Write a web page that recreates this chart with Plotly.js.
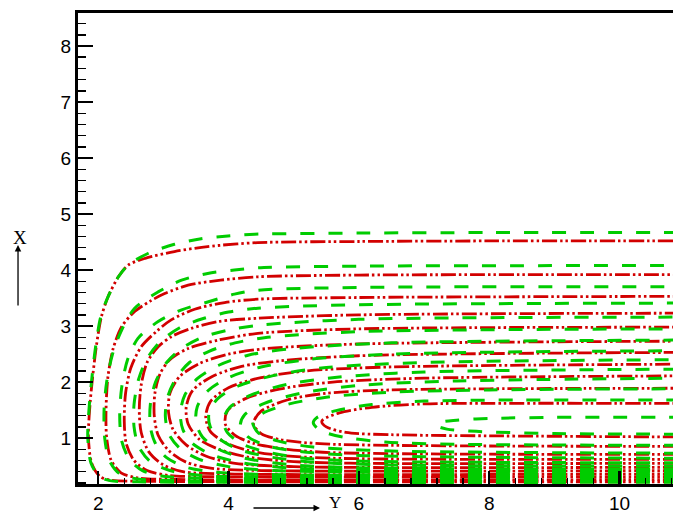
<!DOCTYPE html>
<html>
<head>
<meta charset="utf-8">
<script src="https://cdn.plot.ly/plotly-3.0.1.min.js"></script>
<style>html,body{margin:0;padding:0;background:#fff;}#chart{width:673px;height:514px;}</style>
</head>
<body>
<div id="chart"></div>
<script>
const redX = [
  [10.9,4,2.6,2.18,2.03,1.90,1.85,1.88,1.97,2.05,2.15,2.31,2.46,2.72,3.17,3.68,4.45,6,8,10.9],
  [10.9,3.2,2.6,2.35,2.2,2.13,2.12,2.15,2.23,2.36,2.56,2.79,3.02,3.38,3.88,4.45,6,10.9],
  [10.9,3.8,3.1,2.75,2.55,2.43,2.4,2.42,2.5,2.66,2.89,3.12,3.48,3.94,4.45,6,10.9],
  [10.9,4,3.3,3.0,2.78,2.66,2.63,2.66,2.75,2.92,3.12,3.43,3.84,4.45,6,10.9],
  [10.9,4.5,3.75,3.35,3.08,2.92,2.86,2.87,2.95,3.1,3.38,3.84,4.45,6,10.9],
  [10.9,5,4.1,3.65,3.35,3.15,3.08,3.1,3.25,3.55,4,4.6,6,10.9],
  [10.9,6,5,4.3,3.85,3.55,3.38,3.35,3.45,3.75,4.2,4.8,6,10.9],
  [10.9,5.6,4.8,4.3,3.95,3.72,3.65,3.72,4.0,4.5,5.2,6.5,10.9],
  [10.9,5.6,4.9,4.4,4.1,3.95,3.98,4.25,4.8,5.6,7,10.9],
  [10.9,6.5,5.4,4.8,4.5,4.38,4.5,4.9,5.5,6.5,8,10.9],
  [10.9,8,6.5,5.8,5.5,5.43,5.45,5.7,6.2,7,8,10.9]
];
const redY = [
  [0.22,0.22,0.23,0.25,0.31,0.55,1.02,1.68,2.63,3.17,3.52,3.88,4.09,4.21,4.33,4.42,4.49,4.51,4.52,4.52],
  [0.26,0.26,0.29,0.38,0.6,1.0,1.5,2.1,2.60,2.99,3.26,3.44,3.58,3.73,3.82,3.88,3.91,3.92],
  [0.31,0.31,0.33,0.42,0.6,0.9,1.3,1.8,2.25,2.63,2.90,3.11,3.30,3.42,3.48,3.51,3.53],
  [0.36,0.36,0.4,0.52,0.75,1.1,1.5,1.95,2.35,2.63,2.81,2.96,3.08,3.14,3.2,3.23],
  [0.42,0.42,0.46,0.57,0.78,1.05,1.4,1.8,2.15,2.4,2.60,2.75,2.87,2.95,2.98],
  [0.48,0.49,0.55,0.68,0.88,1.15,1.45,1.8,2.1,2.33,2.5,2.6,2.68,2.73],
  [0.55,0.55,0.58,0.66,0.8,0.98,1.25,1.55,1.85,2.1,2.28,2.38,2.47,2.53],
  [0.62,0.64,0.69,0.78,0.92,1.12,1.38,1.65,1.9,2.08,2.2,2.27,2.32],
  [0.71,0.74,0.8,0.9,1.05,1.25,1.48,1.7,1.88,2.0,2.07,2.11],
  [0.85,0.87,0.9,0.97,1.08,1.26,1.48,1.68,1.8,1.86,1.88,1.89],
  [1.02,1.04,1.06,1.1,1.2,1.29,1.33,1.45,1.55,1.61,1.62,1.62]
];
// Green dashed streamlines
const greenX = [
  [10.9,4,2.6,2.18,2.02,1.89,1.84,1.87,1.96,2.04,2.15,2.31,2.46,2.77,3.17,3.58,3.99,4.4,6,8,10.9],
  [10.9,3.2,2.55,2.32,2.17,2.1,2.09,2.13,2.22,2.36,2.56,2.92,3.28,3.68,4.09,4.45,6,10.9],
  [10.9,3.8,3.0,2.68,2.48,2.36,2.33,2.36,2.45,2.61,2.92,3.28,3.68,4.09,4.45,6,10.9],
  [10.9,4.5,3.6,3.1,2.8,2.62,2.55,2.55,2.62,2.75,2.95,3.25,3.6,4.0,4.45,6,10.9],
  [10.9,4.6,3.8,3.35,3.05,2.88,2.8,2.8,2.88,3.05,3.28,3.6,4.0,4.5,6,10.9],
  [10.9,4.7,4.0,3.55,3.25,3.08,3.03,3.07,3.2,3.4,3.7,4.1,4.6,6,10.9],
  [10.9,6,4.9,4.2,3.75,3.45,3.3,3.26,3.33,3.52,3.85,4.3,5,6.5,10.9],
  [10.9,6,4.9,4.25,3.85,3.6,3.5,3.52,3.68,4.0,4.5,5.2,6.5,10.9],
  [10.9,6.5,5.3,4.6,4.15,3.87,3.72,3.7,3.83,4.15,4.7,5.5,7,10.9],
  [10.9,6,5.1,4.55,4.2,3.98,3.92,4.02,4.35,4.9,5.7,7,10.9],
  [10.9,6,5.1,4.6,4.3,4.18,4.25,4.55,5.1,6,7.5,10.9],
  [10.9,6.5,5.3,4.75,4.45,4.37,4.52,4.9,5.5,6.5,8,10.9],
  [10.9,7.5,6.4,5.75,5.4,5.3,5.35,5.65,6.2,7,8.5,10.9],
  [10.9,9,7.8,7.35,7.2,7.25,7.5,8,9,10.9]
];
const greenY = [
  [0.21,0.21,0.22,0.24,0.31,0.55,1.02,1.68,2.63,3.17,3.52,3.88,4.09,4.30,4.46,4.56,4.61,4.64,4.66,4.67,4.67],
  [0.24,0.24,0.28,0.37,0.6,1.0,1.5,2.0,2.5,2.93,3.32,3.61,3.82,3.94,4.0,4.04,4.07,4.08],
  [0.27,0.28,0.32,0.42,0.62,0.95,1.4,1.9,2.4,2.78,3.08,3.29,3.43,3.57,3.64,3.69,3.70],
  [0.30,0.31,0.33,0.42,0.58,0.85,1.2,1.6,2.05,2.42,2.72,2.97,3.13,3.25,3.32,3.38,3.41],
  [0.33,0.35,0.39,0.48,0.65,0.9,1.2,1.6,2.0,2.35,2.6,2.8,2.93,3.02,3.12,3.16],
  [0.37,0.42,0.49,0.62,0.82,1.08,1.4,1.75,2.08,2.35,2.55,2.7,2.8,2.9,2.95],
  [0.41,0.43,0.47,0.56,0.7,0.9,1.15,1.45,1.77,2.06,2.3,2.48,2.6,2.7,2.75],
  [0.45,0.47,0.53,0.64,0.8,1.02,1.28,1.56,1.84,2.08,2.27,2.4,2.5,2.56],
  [0.50,0.52,0.57,0.67,0.8,0.98,1.2,1.45,1.7,1.93,2.12,2.26,2.35,2.40],
  [0.56,0.59,0.65,0.76,0.9,1.1,1.32,1.55,1.77,1.96,2.09,2.18,2.23],
  [0.64,0.69,0.76,0.86,1.02,1.22,1.42,1.62,1.8,1.94,2.02,2.07],
  [0.73,0.77,0.84,0.95,1.1,1.29,1.44,1.6,1.73,1.82,1.86,1.88],
  [0.87,0.89,0.93,1.02,1.14,1.27,1.36,1.49,1.6,1.66,1.68,1.68],
  [1.07,1.08,1.12,1.16,1.22,1.28,1.32,1.35,1.37,1.37]
];
const xTickVals = [2,4,6,8,10];
const yTickVals = [1,2,3,4,5,6,7,8];
const xTitle = 'Y';
const yTitle = 'X';

const RED = '#d20000', GREEN = '#00cc00';
const traces = [];
redX.forEach((xs, i) => traces.push({
  type: 'scatter', mode: 'lines', x: xs, y: redY[i], hoverinfo: 'skip', showlegend: false,
  line: {color: RED, width: 2.8, dash: '15px,3px,2.5px,3px,2.5px,3px', shape: 'spline', smoothing: 0.8}
}));
greenX.forEach((xs, i) => traces.push({
  type: 'scatter', mode: 'lines', x: xs, y: greenY[i], hoverinfo: 'skip', showlegend: false,
  line: {color: GREEN, width: 3, dash: '14px,14px', shape: 'spline', smoothing: 0.8}
}));

const tickFont = {family: 'Liberation Sans, Arial, sans-serif', size: 19, color: '#000'};
const layout = {
  width: 673, height: 514,
  margin: {l: 78, r: 0, t: 13, b: 30, pad: 0},
  paper_bgcolor: '#fff', plot_bgcolor: '#fff',
  showlegend: false,
  xaxis: {
    range: [1.69, 10.82], tickmode: 'array', tickvals: xTickVals, ticktext: xTickVals.map(String),
    ticks: 'inside', ticklen: 13, tickwidth: 2.5, tickcolor: '#000',
    showline: true, linewidth: 3, linecolor: '#000', mirror: true,
    showgrid: false, zeroline: false, tickfont: tickFont,
    minor: {dtick: 0.4, tick0: 0, ticks: 'inside', ticklen: 6, tickwidth: 1.5, tickcolor: '#000', showgrid: false}
  },
  yaxis: {
    range: [0.18, 8.59], tickmode: 'array', tickvals: yTickVals, ticktext: yTickVals.map(String),
    ticks: 'inside', ticklen: 15, tickwidth: 2.5, tickcolor: '#000',
    showline: true, linewidth: 3, linecolor: '#000', mirror: false,
    showgrid: false, zeroline: false, tickfont: tickFont,
    minor: {dtick: 0.2, tick0: 0, ticks: 'inside', ticklen: 8, tickwidth: 1.5, tickcolor: '#000', showgrid: false}
  },
  annotations: [
    {xref: 'paper', yref: 'paper', x: -0.1008, y: 0.5074, ax: 0, ay: 62, text: '', showarrow: true,
     arrowhead: 2, arrowsize: 1, arrowwidth: 1.3, arrowcolor: '#000'},
    {xref: 'paper', yref: 'paper', x: -0.0975, y: 0.5244, xanchor: 'center', yanchor: 'middle', text: yTitle, showarrow: false,
     font: {family: 'Liberation Serif, Times New Roman, serif', size: 19, color: '#000'}},
    {xref: 'paper', yref: 'paper', x: 0.4067, y: -0.0510, ax: -68, ay: 0, text: '', showarrow: true,
     arrowhead: 2, arrowsize: 1, arrowwidth: 1.3, arrowcolor: '#000'},
    {xref: 'paper', yref: 'paper', x: 0.432, y: -0.0630, xanchor: 'center', yanchor: 'bottom', text: xTitle, showarrow: false,
     font: {family: 'Liberation Serif, Times New Roman, serif', size: 17, color: '#000'}}
  ]
};
Plotly.newPlot('chart', traces, layout, {displayModeBar: false, staticPlot: true});
</script>
</body>
</html>
